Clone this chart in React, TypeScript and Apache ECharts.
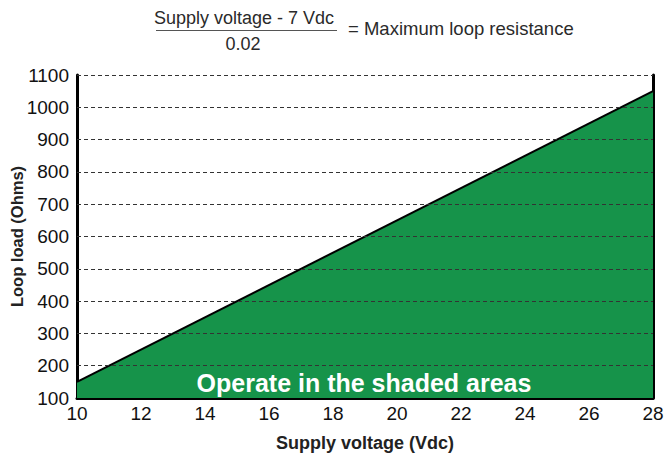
import React, { useEffect, useRef } from "react";
import * as echarts from "echarts";

const xTicks = [10, 12, 14, 16, 18, 20, 22, 24, 26, 28];
const supplyVoltage = [10, 28];
const loopLoad = [150, 1050];
const yGridValues = [200, 300, 400, 500, 600, 700, 800, 900, 1000, 1100];

const GREEN = "#16934a";
const FONT = "Liberation Sans, Arial, sans-serif";

export default function App() {
  const ref = useRef<HTMLDivElement>(null);
  useEffect(() => {
    if (!ref.current) return;
    const chart = echarts.init(ref.current, null, { renderer: "svg" });
    chart.setOption({
      animation: false,
      grid: { left: 77, right: 11, top: 75, bottom: 55, containLabel: false, outerBoundsMode: "none" },
      xAxis: {
        type: "value",
        min: xTicks[0],
        max: xTicks[xTicks.length - 1],
        interval: 2,
        name: "Supply voltage (Vdc)",
        nameLocation: "middle",
        nameGap: 36,
        nameMoveOverlap: false,
        nameTextStyle: { fontFamily: FONT, fontWeight: "bold", fontSize: 18, color: "#222" },
        axisLine: { show: true, onZero: false, lineStyle: { color: "#000", width: 3 } },
        axisTick: { show: false },
        axisLabel: { fontFamily: FONT, fontSize: 19, color: "#111", margin: 6 },
        splitLine: { show: false },
      },
      yAxis: [
        {
          type: "value",
          min: 100,
          max: 1100,
          interval: 100,
          name: "Loop load (Ohms)",
          nameLocation: "middle",
          nameGap: 52,
          nameMoveOverlap: false,
          nameTextStyle: { fontFamily: FONT, fontWeight: "bold", fontSize: 16.5, color: "#222" },
          axisLine: { show: true, lineStyle: { color: "#000", width: 3 } },
          axisTick: { show: false },
          axisLabel: { fontFamily: FONT, fontSize: 19, color: "#111", margin: 8, formatter: (v: number) => String(v) },
          splitLine: { show: false },
        },
        {
          type: "value",
          min: 100,
          max: 1100,
          interval: 100,
          position: "right",
          axisLine: { show: true, lineStyle: { color: "#000", width: 3 } },
          axisTick: { show: false },
          axisLabel: { show: false },
          splitLine: { show: false },
        },
      ],
      series: [
        {
          type: "line",
          data: supplyVoltage.map((v, i) => [v, loopLoad[i]]),
          symbol: "none",
          lineStyle: { color: "#000", width: 2 },
          areaStyle: { color: GREEN, opacity: 1, origin: "start" },
          z: 1,
          markLine: {
            silent: true,
            symbol: "none",
            label: { show: false },
            lineStyle: { color: "#333", width: 1, type: [4, 3] },
            data: yGridValues.map((v) => ({ yAxis: v })),
            z: 3,
          },
        },
      ],
      graphic: [
        {
          type: "text",
          x: 364,
          y: 383,
          style: {
            text: "Operate in the shaded areas",
            fontFamily: FONT,
            fontWeight: "bold",
            fontSize: 25,
            fill: "#fff",
            align: "center",
            verticalAlign: "middle",
          },
          z: 10,
        },
        {
          type: "text",
          x: 244,
          y: 18,
          style: {
            text: "Supply voltage - 7 Vdc",
            fontFamily: FONT,
            fontSize: 18,
            fill: "#2a2a2a",
            align: "center",
            verticalAlign: "middle",
          },
        },
        {
          type: "line",
          shape: { x1: 156, y1: 30.5, x2: 337, y2: 30.5 },
          style: { stroke: "#555", lineWidth: 1 },
        },
        {
          type: "text",
          x: 243,
          y: 44,
          style: {
            text: "0.02",
            fontFamily: FONT,
            fontSize: 18,
            fill: "#2a2a2a",
            align: "center",
            verticalAlign: "middle",
          },
        },
        {
          type: "text",
          x: 348,
          y: 28,
          style: {
            text: "= Maximum loop resistance",
            fontFamily: FONT,
            fontSize: 18.5,
            fill: "#2a2a2a",
            align: "left",
            verticalAlign: "middle",
          },
        },
      ],
    });
    return () => chart.dispose();
  }, []);
  return <div ref={ref} style={{ width: 664, height: 453, position: "absolute", left: 0, top: 0 }} />;
}
